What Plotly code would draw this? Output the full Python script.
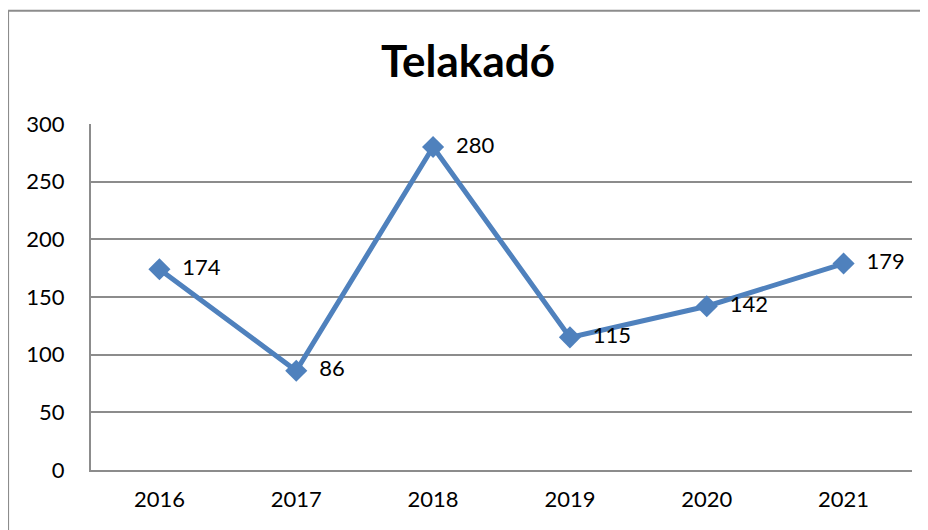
import plotly.graph_objects as go

years = ["2016", "2017", "2018", "2019", "2020", "2021"]
values = [174, 86, 280, 115, 142, 179]
y_ticks = [0, 50, 100, 150, 200, 250, 300]

line_color = "#4F81BD"
grid_color = "#8C8C8C"
font_family = "Lato, Calibri, sans-serif"

fig = go.Figure()
fig.add_trace(go.Scatter(
    x=years, y=values,
    mode="lines+markers+text",
    line=dict(color=line_color, width=5),
    marker=dict(symbol="diamond", size=17, color=line_color),
    text=values,
    texttemplate="  %{text}",
    textposition="middle right",
    textfont=dict(size=22, color="#000000", family=font_family),
    cliponaxis=False,
    hoverinfo="x+y",
))

# outer chart frame (only left and top edges are visible in the picture)
fig.add_shape(type="line", xref="paper", yref="paper",
              x0=-0.101, x1=-0.101, y0=-0.3, y1=1.327,
              line=dict(color="#8C8C8C", width=2))
fig.add_shape(type="line", xref="paper", yref="paper",
              x0=-0.101, x1=1.1, y0=1.327, y1=1.327,
              line=dict(color="#8C8C8C", width=2))

# page adds ~8px body margin, so the figure is 8px smaller than the window
fig.update_layout(
    width=920, height=522,
    margin=dict(l=83, r=16, t=116, b=60),
    paper_bgcolor="white", plot_bgcolor="white",
    showlegend=False,
    font=dict(family=font_family, size=22, color="#000000"),
    title=dict(text="<b>Telakadó</b>", x=0.5, xanchor="center",
               y=0.897, yanchor="middle",
               font=dict(size=44, family=font_family, color="#000000")),
)
fig.update_xaxes(
    type="category", range=[-0.5, 5.5],
    showgrid=False, showline=True, linecolor=grid_color, linewidth=2,
    ticks="", ticklabelstandoff=9,
    tickfont=dict(size=22), zeroline=False,
)
fig.update_yaxes(
    range=[0, 300], tickvals=y_ticks,
    showgrid=True, gridcolor=grid_color, gridwidth=2,
    showline=True, linecolor=grid_color, linewidth=2,
    ticks="", ticklabelstandoff=20,
    tickfont=dict(size=22), zeroline=False,
)

fig.write_html("out.html")
